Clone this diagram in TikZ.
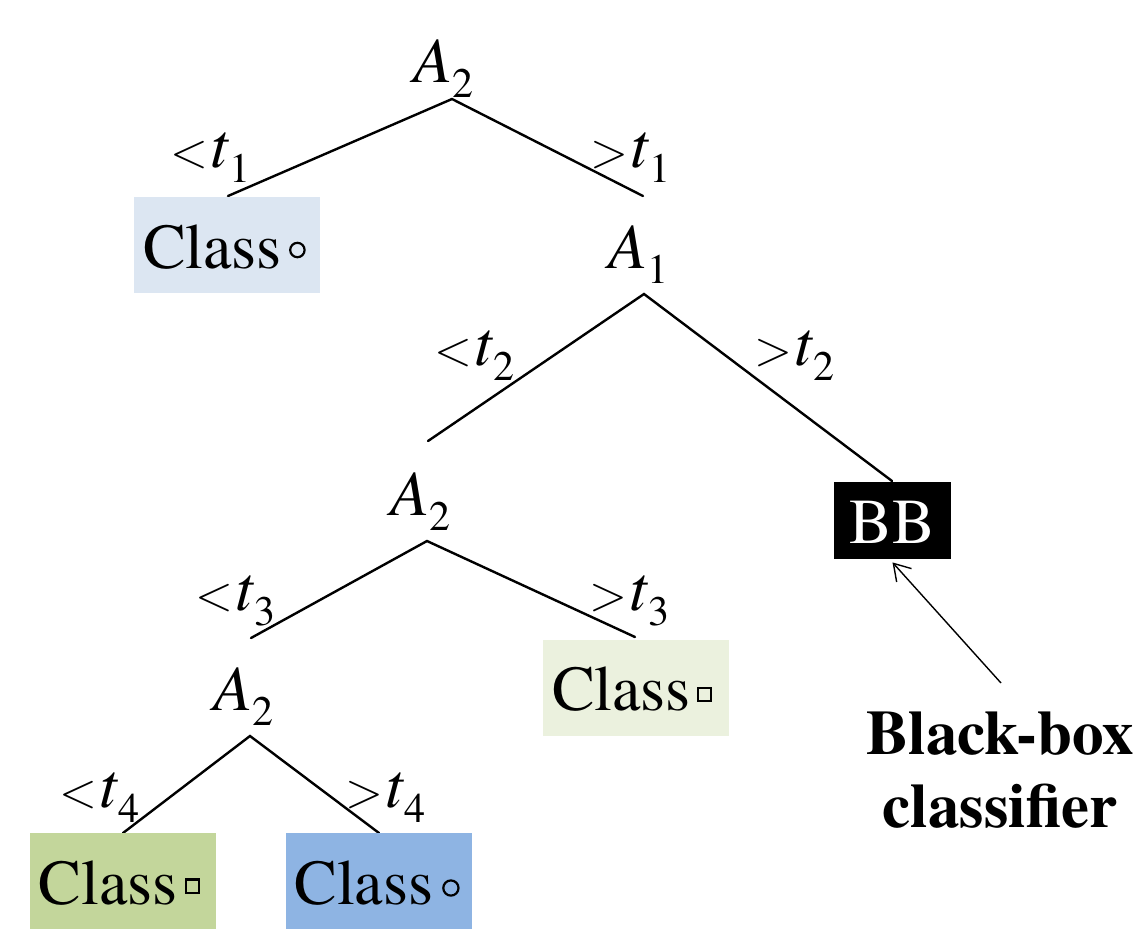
\documentclass[tikz,border=0pt]{standalone}
\usepackage{fontspec}
\setmainfont{texgyretermes-regular.otf}[
  BoldFont=texgyretermes-bold.otf,
  ItalicFont=texgyretermes-italic.otf,
  BoldItalicFont=texgyretermes-bolditalic.otf]
\usetikzlibrary{arrows.meta}
\definecolor{paleblue}{HTML}{DCE6F2}
\definecolor{palegreen}{HTML}{EBF1DE}
\definecolor{leafgreen}{HTML}{C3D69B}
\definecolor{leafblue}{HTML}{8EB4E3}
% lowered, reduced index
\newcommand\idx[1]{\raisebox{-7.5pt}{\fontsize{21}{21}\selectfont #1}}
\newcommand\attrib[1]{\textit{A}\idx{#1}}
% thin relation signs
\newcommand\rel[1]{{\fontsize{27}{27}\selectfont$#1$}\kern1pt}
\newcommand\thrlo[1]{\rel{<}\textit{t}\idx{#1}}
\newcommand\thrhi[1]{\rel{>}\textit{t}\idx{#1}}
\begin{document}
\begin{tikzpicture}[x=0.5pt,y=-0.5pt,
  every node/.style={inner sep=0pt,font=\fontsize{32}{38}\selectfont},
  txt/.style={anchor=base west},
  edge/.style={line width=1.2pt,line cap=round},
  leaf/.style={rectangle,minimum width=93pt,minimum height=48pt,
    text width=84pt,align=left,text height=23pt,text depth=0pt},
  symline/.style={line width=1.1pt}]
\useasboundingbox (0,0) rectangle (1136,939);

% split attributes
\node[txt] (n1) at (413,82)  {\attrib{2}};
\node[txt] (n2) at (608,268) {\attrib{1}};
\node[txt] (n3) at (390,515) {\attrib{2}};
\node[txt] (n4) at (213,710) {\attrib{2}};

% branch points and branch ends
\coordinate (p1) at (452,99);  \coordinate (p1l) at (228,196); \coordinate (p1r) at (643,196);
\coordinate (p2) at (644,294); \coordinate (p2l) at (428,441); \coordinate (p2r) at (892,481);
\coordinate (p3) at (427,541); \coordinate (p3l) at (251,638); \coordinate (p3r) at (635,637);
\coordinate (p4) at (250,736); \coordinate (p4l) at (123,833); \coordinate (p4r) at (379,833);

\draw[edge] (p1l) -- (p1) -- (p1r);
\draw[edge] (p2l) -- (p2) -- (p2r);
\draw[edge] (p3l) -- (p3) -- (p3r);
\draw[edge] (p4l) -- (p4) -- (p4r);

% thresholds
\node[txt] (l1) at (170,167) {\thrlo{1}};
\node[txt] (r1) at (590,167) {\thrhi{1}};
\node[txt] (l2) at (434,365) {\thrlo{2}};
\node[txt] (r2) at (754,365) {\thrhi{2}};
\node[txt] (l3) at (195,610) {\thrlo{3}};
\node[txt] (r3) at (589,610) {\thrhi{3}};
\node[txt] (l4) at (59,807)  {\thrlo{4}};
\node[txt] (r4) at (345,807) {\thrhi{4}};

% leaves
\node[leaf,fill=paleblue]  (c1) at (227,245)   {Class};
\node[leaf,fill=palegreen] (c2) at (636,687.5) {Class};
\node[leaf,fill=leafgreen] (c3) at (123,881)   {Class};
\node[leaf,fill=leafblue]  (c4) at (378.5,881) {Class};

\draw[symline] ([xshift=-11.5pt,yshift=-2.5pt]c1.east) circle (3.6pt);
\draw[symline] ([xshift=-12.5pt,yshift=-3.5pt]c2.east) ++(-3.3pt,-3.3pt) rectangle ++(6.6pt,6.6pt);
\draw[symline] ([xshift=-12pt,yshift=-2.5pt]c3.east) ++(-3.3pt,-3.3pt) rectangle ++(6.6pt,6.6pt);
\draw[symline] ([xshift=-10.5pt,yshift=-3.5pt]c4.east) circle (3.8pt);

% black-box classifier
\node[rectangle,fill=black,text=white,minimum width=58.5pt,minimum height=38.5pt,
  text height=23pt,text depth=0pt] (bb) at (892.5,520.5) {BB};
\node[font=\bfseries\fontsize{31.5}{36.5}\selectfont,align=center] (bbl) at (1000,770)
  {Black-box\\classifier};
\coordinate (tail) at (1001,683);
\draw[line width=0.7pt,-{Straight Barb[length=8pt,width=10pt]}] (tail) -- ([yshift=-1.5pt]bb.south);
\end{tikzpicture}
\end{document}
